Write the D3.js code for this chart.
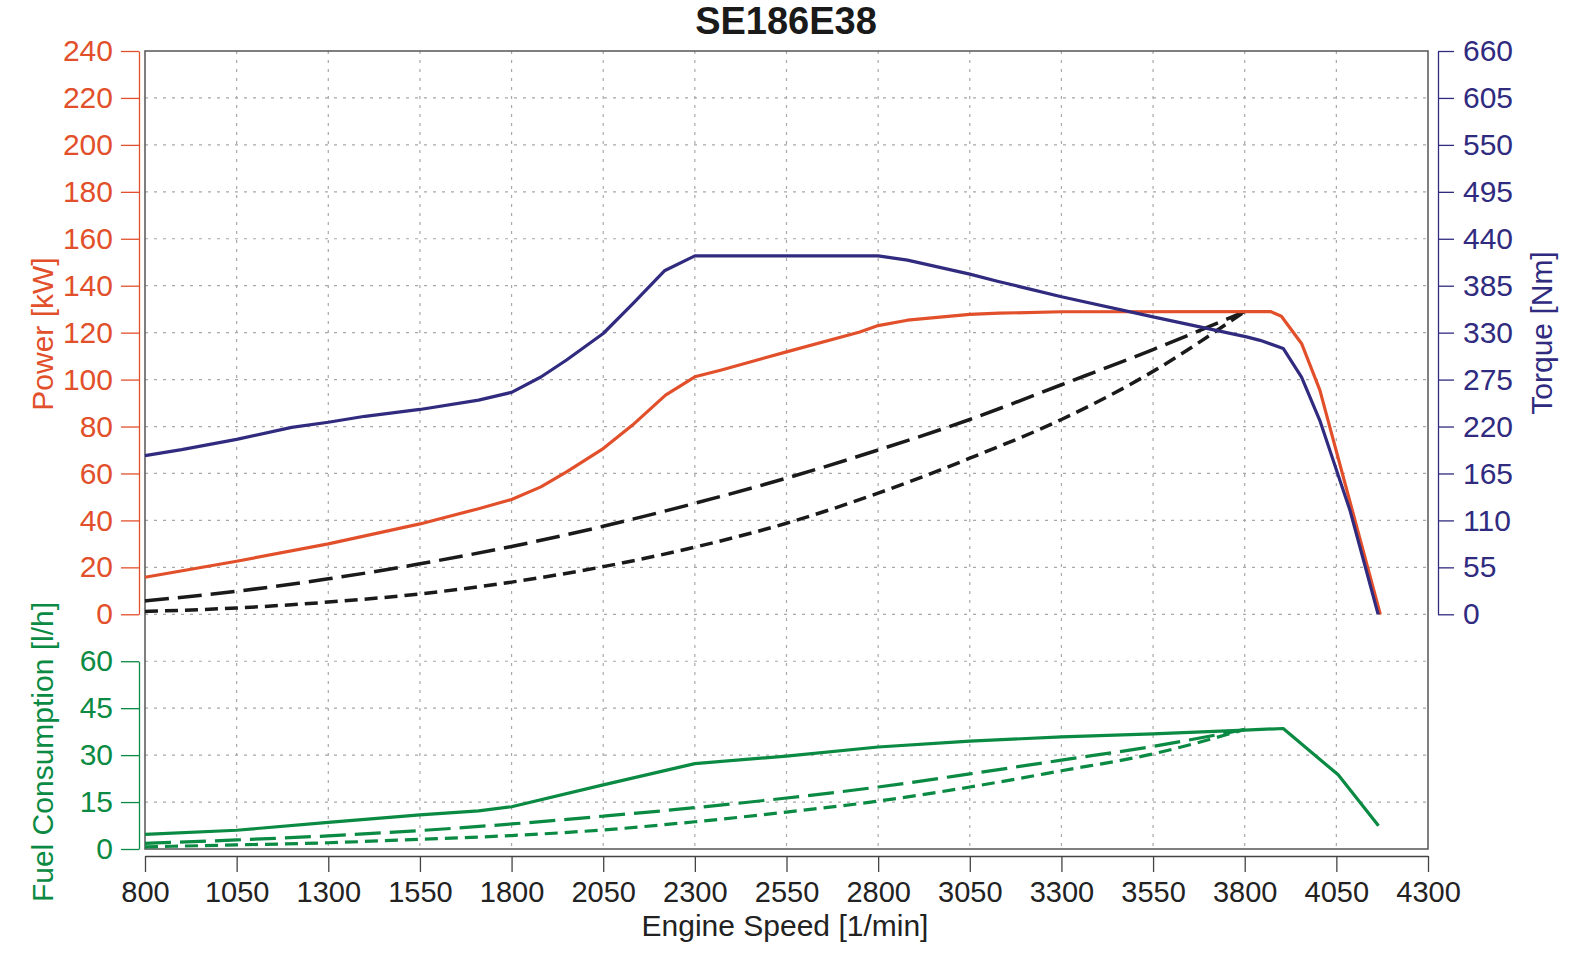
<!DOCTYPE html>
<html>
<head>
<meta charset="utf-8">
<script src="https://cdn.jsdelivr.net/npm/d3@7"></script>
<style>
  body { margin: 0; background: #fff; }
  svg { display: block; font-family: "Liberation Sans", Arial, sans-serif; }
</style>
</head>
<body>
<div id="chart"></div>
<script>
/*
*    SE186E38 engine curves
*/

// ===== DATA =====
const xTicks = [800, 1050, 1300, 1550, 1800, 2050, 2300, 2550, 2800, 3050, 3300, 3550, 3800, 4050, 4300];
const powerTicks = [0, 20, 40, 60, 80, 100, 120, 140, 160, 180, 200, 220, 240];
const torqueTicks = [0, 55, 110, 165, 220, 275, 330, 385, 440, 495, 550, 605, 660];
const fuelTicks = [0, 15, 30, 45, 60];

// full load power [kW]
const powerRpm = [800, 1050, 1300, 1550, 1710, 1800, 1880, 1950, 2050, 2130, 2220, 2300, 2370, 2550, 2750, 2800, 2880, 3050, 3130, 3300, 3870, 3900, 3955, 4005, 4170];
const powerKw  = [15.8, 22.6, 30, 38.5, 45, 48.9, 54.3, 60.7, 70.6, 80.6, 93.4, 101.2, 104, 111.8, 120.3, 123, 125.3, 127.8, 128.3, 128.9, 129, 127, 115.4, 95.5, 0];

// torque [Nm]
const torqueRpm = [800, 900, 1050, 1200, 1300, 1400, 1550, 1710, 1800, 1880, 1950, 2050, 2131, 2217, 2300, 2800, 2880, 3050, 3128, 3300, 3550, 3805, 3842, 3905, 3955, 4005, 4087, 4164];
const torqueNm  = [186, 193, 205, 219, 225, 232, 240, 251, 260, 278, 298, 329, 364, 402.5, 420, 420, 415, 398.6, 390, 372, 348.5, 325, 321, 311.5, 278, 227, 122, 0];

// propeller curves (power) – black dashed
const propRpm = [800, 1050, 1300, 1550, 1800, 2050, 2300, 2550, 2800, 3050, 3300, 3550, 3800];
const propLongKw  = [5.7, 9.8, 15.1, 21.5, 28.9, 37.5, 47.3, 58, 70, 83, 97.8, 112.8, 129];
const propShortKw = [1.2, 2.7, 5.2, 8.7, 13.7, 20.3, 28.6, 38.8, 51.6, 66.5, 83, 103.5, 129];

// fuel consumption [l/h]
const fuelRpm = [800, 1050, 1300, 1550, 1710, 1800, 2050, 2300, 2550, 2800, 3050, 3300, 3550, 3800, 3905, 4055, 4165];
const fuelFull = [4.7, 6.0, 8.5, 10.9, 12.2, 13.5, 20.5, 27.3, 29.7, 32.6, 34.5, 35.8, 36.8, 38, 38.5, 23.7, 7.4];
const fuelLong  = [1.8, 2.9, 4.2, 5.9, 8, 10.5, 13.2, 16.3, 19.8, 24, 28.4, 32.8, 38.2];
const fuelShort = [0.7, 1.3, 2, 3.1, 4.3, 6.1, 8.7, 11.8, 15.3, 19.8, 25, 30.4, 38.2];

// ===== CHART =====
const width = 1572;
const height = 958;

const margin = { left: 145, right: 144, top: 51, bottom: 109 };
const innerWidth = width - margin.left - margin.right;
const innerHeight = height - margin.top - margin.bottom;
const step = innerHeight / 17;          // one grid row
const powerBottom = step * 12;          // y of power/torque zero
const fuelTop = step * 13;              // y of fuel 60

const cOrange = "#e2502b";
const cNavy = "#302b7f";
const cGreen = "#0a8a42";
const cText = "#222";

const svg = d3.select("#chart")
	.append("svg")
	.attr("width", width)
	.attr("height", height);

const g = svg.append("g")
	.attr("transform", `translate(${margin.left}, ${margin.top})`);

// scales
const x = d3.scaleLinear().domain([800, 4300]).range([0, innerWidth]);
const yPower = d3.scaleLinear().domain([0, 240]).range([powerBottom, 0]);
const yTorque = d3.scaleLinear().domain([0, 660]).range([powerBottom, 0]);
const yFuel = d3.scaleLinear().domain([0, 60]).range([innerHeight, fuelTop]);

// grid
const grid = g.append("g").attr("stroke", "#a8a8a8").attr("stroke-width", 1.2);

grid.selectAll(".vg")
	.data(xTicks.slice(1, -1))
	.enter()
	.append("line")
	.attr("x1", d => x(d)).attr("x2", d => x(d))
	.attr("y1", 0).attr("y2", innerHeight)
	.attr("stroke-dasharray", "3,6");

grid.selectAll(".hp")
	.data(powerTicks.slice(0, -1))
	.enter()
	.append("line")
	.attr("x1", 0).attr("x2", innerWidth)
	.attr("y1", d => yPower(d)).attr("y2", d => yPower(d))
	.attr("stroke-dasharray", "3,6");

grid.selectAll(".hf")
	.data(fuelTicks.slice(1))
	.enter()
	.append("line")
	.attr("x1", 0).attr("x2", innerWidth)
	.attr("y1", d => yFuel(d)).attr("y2", d => yFuel(d))
	.attr("stroke-dasharray", "3,6");

// frame
g.append("rect")
	.attr("width", innerWidth)
	.attr("height", innerHeight)
	.attr("fill", "none")
	.attr("stroke", "#555")
	.attr("stroke-width", 1.5);

// axis helper
function styleAxis(sel, color, size) {
	sel.attr("font-size", size).attr("font-family", "'Liberation Sans', Arial, sans-serif");
	sel.selectAll("path").attr("stroke", color).attr("stroke-width", 1.3);
	sel.selectAll("line").attr("stroke", color).attr("stroke-width", 1.3);
	sel.selectAll("text").attr("fill", color);
}

// power axis
const axPower = g.append("g")
	.attr("transform", "translate(-6, 0)")
	.call(d3.axisLeft(yPower).tickValues(powerTicks).tickSize(18).tickSizeOuter(0).tickPadding(8));
styleAxis(axPower, cOrange, 30);

// fuel axis
const axFuel = g.append("g")
	.attr("transform", "translate(-6, 0)")
	.call(d3.axisLeft(yFuel).tickValues(fuelTicks).tickSize(18).tickSizeOuter(0).tickPadding(8));
styleAxis(axFuel, cGreen, 30);

// torque axis
const axTorque = g.append("g")
	.attr("transform", `translate(${innerWidth + 10}, 0)`)
	.call(d3.axisRight(yTorque).tickValues(torqueTicks).tickSize(16).tickSizeOuter(0).tickPadding(9));
styleAxis(axTorque, cNavy, 30);

// x axis
const axX = g.append("g")
	.attr("transform", `translate(0, ${innerHeight + 7})`)
	.call(d3.axisBottom(x).tickValues(xTicks).tickFormat(d3.format("d")).tickSize(16).tickSizeOuter(0).tickPadding(9));
styleAxis(axX, cText, 29);
axX.selectAll("path, line").attr("stroke", "#444");

// lines
const line = (xs, ys, yScale, curve) => d3.line()
	.x((d, i) => x(xs[i]))
	.y(d => yScale(d))
	.curve(curve || d3.curveLinear)(ys);

const curves = g.append("g").attr("fill", "none").attr("stroke-linejoin", "round");

curves.append("path")
	.attr("d", line(propRpm, propLongKw, yPower, d3.curveMonotoneX))
	.attr("stroke", "#1a1a1a").attr("stroke-width", 3.5)
	.attr("stroke-dasharray", "24,9");

curves.append("path")
	.attr("d", line(propRpm, propShortKw, yPower, d3.curveMonotoneX))
	.attr("stroke", "#1a1a1a").attr("stroke-width", 3.5)
	.attr("stroke-dasharray", "13,7");

curves.append("path")
	.attr("d", line(powerRpm, powerKw, yPower))
	.attr("stroke", cOrange).attr("stroke-width", 3.2);

curves.append("path")
	.attr("d", line(torqueRpm, torqueNm, yTorque))
	.attr("stroke", cNavy).attr("stroke-width", 3.2);

curves.append("path")
	.attr("d", line(propRpm, fuelLong, yFuel, d3.curveMonotoneX))
	.attr("stroke", cGreen).attr("stroke-width", 3.2)
	.attr("stroke-dasharray", "26,9");

curves.append("path")
	.attr("d", line(propRpm, fuelShort, yFuel, d3.curveMonotoneX))
	.attr("stroke", cGreen).attr("stroke-width", 3.2)
	.attr("stroke-dasharray", "13,7");

curves.append("path")
	.attr("d", line(fuelRpm, fuelFull, yFuel))
	.attr("stroke", cGreen).attr("stroke-width", 3.2);

// title
svg.append("text")
	.attr("x", 786)
	.attr("y", 34)
	.attr("text-anchor", "middle")
	.style("font-size", "38px")
	.style("font-weight", "700")
	.attr("fill", "#1a1a1a")
	.text("SE186E38");

// axis titles
svg.append("text")
	.attr("x", 785)
	.attr("y", 936)
	.attr("text-anchor", "middle")
	.style("font-size", "30px")
	.attr("fill", cText)
	.text("Engine Speed [1/min]");

svg.append("text")
	.attr("transform", "translate(53, 334) rotate(-90)")
	.attr("text-anchor", "middle")
	.style("font-size", "30px")
	.attr("fill", cOrange)
	.text("Power [kW]");

svg.append("text")
	.attr("transform", "translate(53, 752) rotate(-90)")
	.attr("text-anchor", "middle")
	.style("font-size", "30px")
	.attr("fill", cGreen)
	.text("Fuel Consumption [l/h]");

svg.append("text")
	.attr("transform", "translate(1552, 333) rotate(-90)")
	.attr("text-anchor", "middle")
	.style("font-size", "30px")
	.attr("fill", cNavy)
	.text("Torque [Nm]");
</script>
</body>
</html>
